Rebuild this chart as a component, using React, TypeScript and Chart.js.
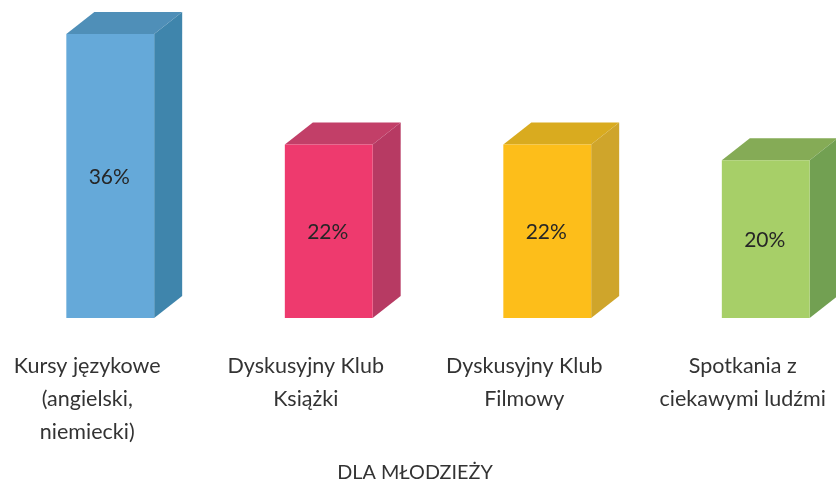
import React, { useEffect, useRef } from "react";
import { Chart, registerables } from "chart.js";

Chart.register(...registerables);

const categories = [
  ["Kursy językowe", "(angielski,", "niemiecki)"],
  ["Dyskusyjny Klub", "Książki"],
  ["Dyskusyjny Klub", "Filmowy"],
  ["Spotkania z", "ciekawymi ludźmi"],
];
const shares = [36, 22, 22, 20];
const frontColors = ["#65A9D9", "#EE3A6E", "#FDBE1A", "#A7CF68"];
const topColors = ["#4F8FB8", "#C23F68", "#D9AB1F", "#85AB56"];
const sideColors = ["#3F85AC", "#B73A63", "#CFA52B", "#72A052"];
const groupTitle = "DLA MŁODZIEŻY";
const FONT = "Lato, 'Open Sans', sans-serif";
const DEPTH_X = 28;
const DEPTH_Y = 22;

const bar3d = {
  id: "bar3d",
  beforeDatasetsDraw(chart: any) {
    const { ctx } = chart;
    chart.getDatasetMeta(0).data.forEach((bar: any, i: number) => {
      const { x, y, base, width } = bar.getProps(["x", "y", "base", "width"], true);
      const l = x - width / 2;
      const r = x + width / 2;
      ctx.save();
      ctx.fillStyle = topColors[i];
      ctx.beginPath();
      ctx.moveTo(l, y);
      ctx.lineTo(l + DEPTH_X, y - DEPTH_Y);
      ctx.lineTo(r + DEPTH_X, y - DEPTH_Y);
      ctx.lineTo(r, y);
      ctx.closePath();
      ctx.fill();
      ctx.fillStyle = sideColors[i];
      ctx.beginPath();
      ctx.moveTo(r, y);
      ctx.lineTo(r + DEPTH_X, y - DEPTH_Y);
      ctx.lineTo(r + DEPTH_X, base - DEPTH_Y);
      ctx.lineTo(r, base);
      ctx.closePath();
      ctx.fill();
      ctx.restore();
    });
  },
  afterDatasetsDraw(chart: any) {
    const { ctx } = chart;
    ctx.save();
    ctx.fillStyle = "#262626";
    ctx.font = `21px ${FONT}`;
    ctx.textAlign = "center";
    ctx.textBaseline = "middle";
    chart.getDatasetMeta(0).data.forEach((bar: any, i: number) => {
      const { x, y, base } = bar.getProps(["x", "y", "base"], true);
      ctx.fillText(`${shares[i]}%`, x - 1, (y + base) / 2 + 1);
    });
    ctx.fillStyle = "#333333";
    ctx.font = `19.8px ${FONT}`;
    ctx.fillText(groupTitle, 415, 473);
    ctx.restore();
  },
};

export default function App() {
  const ref = useRef<HTMLCanvasElement>(null);
  useEffect(() => {
    const chart = new Chart(ref.current!, {
      type: "bar",
      data: {
        labels: categories,
        datasets: [
          {
            data: shares,
            backgroundColor: frontColors,
            barPercentage: 0.402,
            categoryPercentage: 1,
          },
        ],
      },
      options: {
        animation: false,
        responsive: false,
        layout: { padding: { left: 1, right: 0, top: 34, bottom: 0 } },
        plugins: { legend: { display: false }, tooltip: { enabled: false } },
        scales: {
          x: {
            grid: { display: false },
            border: { display: false },
            afterFit: (s: any) => {
              s.height = 162;
            },
            ticks: {
              autoSkip: false,
              maxRotation: 0,
              minRotation: 0,
              padding: 24,
              labelOffset: -23,
              color: "#333333",
              font: { family: FONT, size: 21.5, lineHeight: 1.535 },
            },
          },
          y: { display: false, min: 0, max: 36 },
        },
      },
      plugins: [bar3d],
    });
    return () => chart.destroy();
  }, []);
  return (
    <div style={{ position: "absolute", left: 0, top: 0, width: 836, height: 480, overflow: "hidden", background: "#fff" }}>
      <canvas ref={ref} width={875} height={480} style={{ display: "block" }} />
    </div>
  );
}
